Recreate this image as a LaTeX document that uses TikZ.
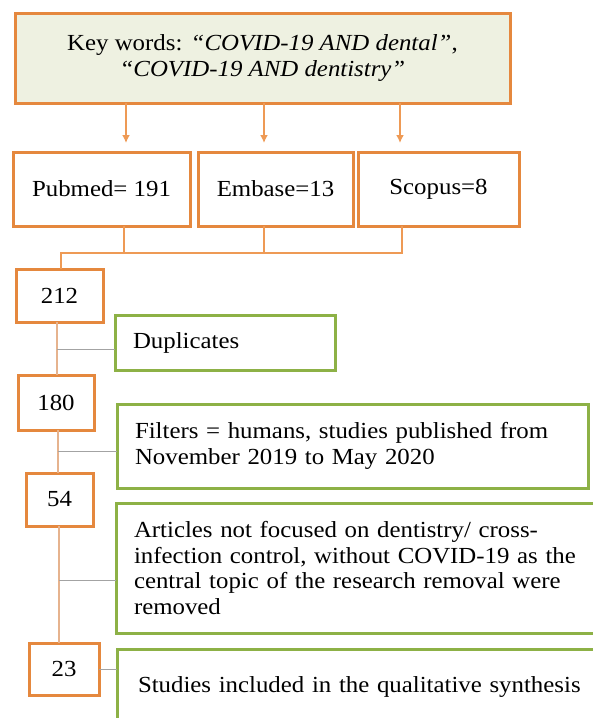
\documentclass[tikz,border=0pt]{standalone}
\usepackage{fontspec}
\setmainfont{Liberation Serif}[FakeStretch=1.08]
\usepackage{tikz}
\usetikzlibrary{arrows.meta,calc}
\definecolor{boxorange}{HTML}{E5883E}
\definecolor{lineorange}{HTML}{EE9A55}
\definecolor{spinetan}{HTML}{E6B38E}
\definecolor{branchgrey}{HTML}{A3A3A3}
\definecolor{boxgreen}{HTML}{8DB146}
\definecolor{keyfill}{HTML}{EEF1E1}
\newcommand{\flowfont}{\fontsize{23}{25.5}\selectfont}

\begin{document}
\begin{tikzpicture}[
x=1pt, y=-1pt,
orangebox/.style={
  draw=boxorange,
  line width=3pt,
  fill=white,
  anchor=north west,
  outer sep=0pt,
  inner sep=0pt,
  font=\flowfont
  },
greenbox/.style={
  draw=boxgreen,
  line width=3pt,
  fill=white,
  anchor=north west,
  outer sep=0pt,
  align=left,
  inner xsep=18pt,
  inner ysep=0pt,
  font=\flowfont
  },
feed/.style={draw=lineorange, line width=1.6pt, shorten >=9pt},
link/.style={draw=lineorange, line width=1.4pt},
spine/.style={draw=spinetan, line width=1.4pt},
branch/.style={draw=branchgrey, line width=1pt},
>={Latex[length=8pt,width=8pt]}
]
\useasboundingbox (0,0) rectangle (593,718);

% search terms and databases
\node[orangebox, fill=keyfill, align=center, minimum width=495pt, minimum height=90pt] at (15,13)
  (keywords) {Key words: \textit{“COVID-19 AND dental”},\\ \textit{“COVID-19 AND dentistry”}};
\node[orangebox, minimum width=177pt, minimum height=74pt] at (13,152)
  (pubmed) {Pubmed= 191};
\node[orangebox, minimum width=155pt, minimum height=74pt] at (198,152)
  (embase) {Embase=13};
\node[orangebox, minimum width=161pt, minimum height=74pt] at (358,152)
  (scopus) {Scopus=8};

% counts
\node[orangebox, minimum width=87pt, minimum height=53pt] at (16,269)
  (n212) {212};
\node[orangebox, minimum width=76pt, minimum height=55pt] at (18,375)
  (n180) {180};
\node[orangebox, minimum width=67pt, minimum height=53pt] at (26,473)
  (n54) {54};
\node[orangebox, minimum width=70pt, minimum height=52pt] at (29,643)
  (n23) {23};

% removal steps
\node[greenbox, text width=184pt, minimum height=55pt] at (115,315)
  (dup) {Duplicates};
\node[greenbox, text width=435pt, minimum height=84pt] at (117,404)
  (filt) {Filters = humans, studies published from\\November 2019 to May 2020};
\node[greenbox, text width=453pt, minimum height=130pt] at (116,503)
  (excl) {Articles not focused on dentistry/ cross-\\infection control, without COVID-19 as the\\central topic of the research removal were\\removed};
\node[greenbox, inner xsep=21pt, text width=446pt, minimum height=76pt] at (117,649)
  (incl) {Studies included in the qualitative synthesis};

% guide points
\coordinate (a1) at (126,0);
\coordinate (a2) at (264,0);
\coordinate (a3) at (400,0);
\coordinate (d1) at (124,0);
\coordinate (d2) at (264,0);
\coordinate (d3) at (402,0);
\coordinate (join) at (61,253);
\coordinate (s1) at (57,349);
\coordinate (s2) at (58,451);
\coordinate (s3) at (59,580);

\foreach \src/\k in {pubmed/1,embase/2,scopus/3}
{
  \draw[feed,->] (keywords.south -| a\k) -- (\src.north -| a\k);
}
\draw[link] (pubmed.south -| d1) -- (d1 |- join);
\draw[link] (embase.south -| d2) -- (d2 |- join);
\draw[link] (scopus.south -| d3) |- (join) -- (n212.north -| join);

\draw[spine] (n212.south -| s1) -- (n180.north -| s1);
\draw[spine] (n180.south -| s2) -- (n54.north -| s2);
\draw[spine] (n54.south -| s3) -- (n23.north -| s3);
\draw[branch] (s1) -- (dup.west |- s1);
\draw[branch] (s2) -- (filt.west |- s2);
\draw[branch] (s3) -- (excl.west |- s3);
\draw[branch] (n23.east) -- (incl.west |- n23.east);
\end{tikzpicture}
\end{document}
